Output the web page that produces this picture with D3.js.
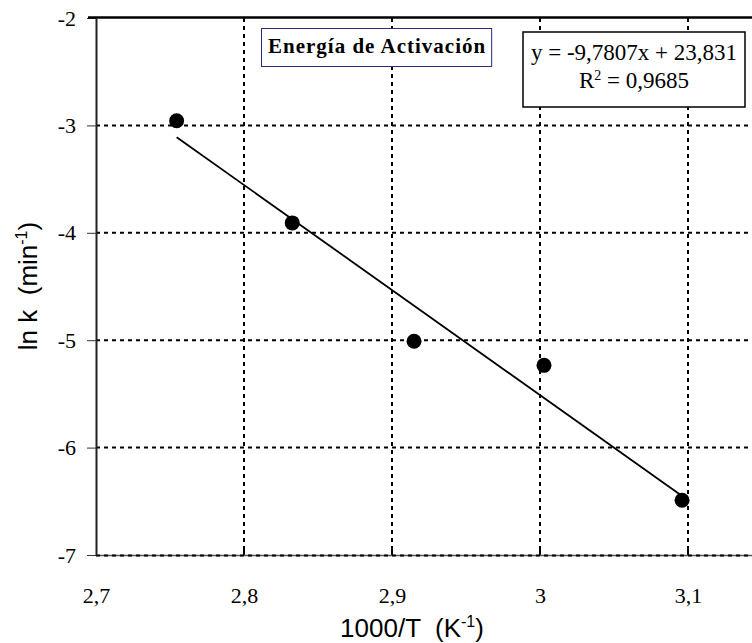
<!DOCTYPE html>
<html>
<head>
<meta charset="utf-8">
<script src="https://cdn.jsdelivr.net/npm/d3@7"></script>
<style>
body { margin: 0; background: #fff; }
svg { display: block; }
</style>
</head>
<body>
<div id="chart-area"></div>
<script>
// datos
var invT = [2.7545, 2.8326, 2.9149, 3.0027, 3.0960];
var lnK = [-2.957, -3.908, -5.010, -5.234, -6.490];
var xTicks = [2.7, 2.8, 2.9, 3.0, 3.1];
var yTicks = [-2, -3, -4, -5, -6, -7];
var slope = -9.7807, intercept = 23.831;

var width = 752, height = 643;
var serif = "'Liberation Serif', 'Times New Roman', serif";
var sans = "'Liberation Sans', Arial, sans-serif";

var svg = d3.select("#chart-area").append("svg")
    .attr("width", width)
    .attr("height", height);

var x = d3.scaleLinear().domain([2.7, 3.2]).range([96, 836]);
var y = d3.scaleLinear().domain([-7, -2]).range([555, 18]);
var fmtX = function(d){ return String(+d.toFixed(1)).replace(".", ","); };
var fmtY = function(d){ return String(d); };

// grid
var grid = svg.append("g");
grid.selectAll(".hg").data(yTicks.slice(1, 5)).enter().append("line")
    .attr("x1", 96).attr("x2", 752)
    .attr("y1", d => y(d)).attr("y2", d => y(d))
    .attr("stroke", "#000").attr("stroke-width", 2).attr("stroke-dasharray", "4,4");
grid.selectAll(".vg").data(xTicks.slice(1)).enter().append("line")
    .attr("x1", d => x(d)).attr("x2", d => x(d))
    .attr("y1", 18).attr("y2", 555)
    .attr("stroke", "#000").attr("stroke-width", 2).attr("stroke-dasharray", "4,4");

// bottom axis
var xAxis = svg.append("g").attr("transform", "translate(0,555)")
    .call(d3.axisBottom(x).tickValues(xTicks).tickSize(0).tickPadding(32).tickFormat(fmtX));
xAxis.select(".domain").attr("stroke", "#555").attr("stroke-width", 1.5);
xAxis.selectAll("text").style("font-family", serif).style("font-size", "22px").attr("fill", "#000");
svg.append("line").attr("x1", 96).attr("x2", 752).attr("y1", 555.5).attr("y2", 555.5)
    .attr("stroke", "#000").attr("stroke-width", 2).attr("stroke-dasharray", "4,4");
// small inner ticks
svg.selectAll(".xt").data(xTicks.slice(1)).enter().append("line")
    .attr("x1", d => x(d)).attr("x2", d => x(d)).attr("y1", 554).attr("y2", 548)
    .attr("stroke", "#000").attr("stroke-width", 2);

// left axis
var yAxis = svg.append("g").attr("transform", "translate(96,0)")
    .call(d3.axisLeft(y).tickValues(yTicks).tickSize(9).tickPadding(11).tickSizeOuter(0).tickFormat(fmtY));
yAxis.select(".domain").attr("stroke", "#222").attr("stroke-width", 2);
yAxis.selectAll(".tick line").attr("stroke", "#333");
yAxis.selectAll("text").style("font-family", serif).style("font-size", "22px").attr("fill", "#000");

// top border
svg.append("line").attr("x1", 88).attr("x2", 752).attr("y1", 17.5).attr("y2", 17.5)
    .attr("stroke", "#000").attr("stroke-width", 2.5);

// trend line
svg.append("line")
    .attr("x1", x(invT[0])).attr("y1", y(slope * invT[0] + intercept))
    .attr("x2", x(invT[4])).attr("y2", y(slope * invT[4] + intercept))
    .attr("stroke", "#000").attr("stroke-width", 1.8);

// points
svg.selectAll("circle.pt").data(invT).enter().append("circle")
    .attr("cx", d => x(d)).attr("cy", (d, i) => y(lnK[i]))
    .attr("r", 7.5).attr("fill", "#000");

// title box
var tBox = svg.append("rect").attr("x", 261.5).attr("y", 28.5).attr("height", 38)
    .attr("fill", "#fff").attr("stroke", "#2a2a80").attr("stroke-width", 1);
var tTxt = svg.append("text").attr("x", 268).attr("y", 53)
    .style("font-family", serif).style("font-weight", "bold")
    .style("font-size", "21px").style("letter-spacing", "1px").text("Energía de Activación");
tBox.attr("width", tTxt.node().getComputedTextLength() + 12);

// equation box
svg.append("rect").attr("x", 523).attr("y", 32).attr("width", 222).attr("height", 75)
    .attr("fill", "#fff").attr("stroke", "#000").attr("stroke-width", 1.5);
svg.append("text").attr("x", 634).attr("y", 60).attr("text-anchor", "middle")
    .style("font-family", serif).style("font-size", "23px")
    .text("y = -9,7807x + 23,831");
var r2 = svg.append("text").attr("x", 634).attr("y", 88).attr("text-anchor", "middle")
    .style("font-family", serif).style("font-size", "23px");
r2.append("tspan").text("R");
r2.append("tspan").attr("dy", -8).style("font-size", "14px").text("2");
r2.append("tspan").attr("dy", 8).text(" = 0,9685");

// axis titles
var xt = svg.append("text").attr("x", 412).attr("y", 637).attr("text-anchor", "middle")
    .style("font-family", sans).style("font-size", "26px")
    .attr("xml:space", "preserve");
xt.append("tspan").text("1000/T  (K");
xt.append("tspan").attr("dy", -10).style("font-size", "16px").text("-1");
xt.append("tspan").attr("dy", 10).text(")");

var yt = svg.append("text").attr("transform", "translate(37,286) rotate(-90)").attr("text-anchor", "middle")
    .style("font-family", sans).style("font-size", "26px")
    .attr("xml:space", "preserve");
yt.append("tspan").text("ln k  (min");
yt.append("tspan").attr("dy", -10).style("font-size", "16px").text("-1");
yt.append("tspan").attr("dy", 10).text(")");
</script>
</body>
</html>
